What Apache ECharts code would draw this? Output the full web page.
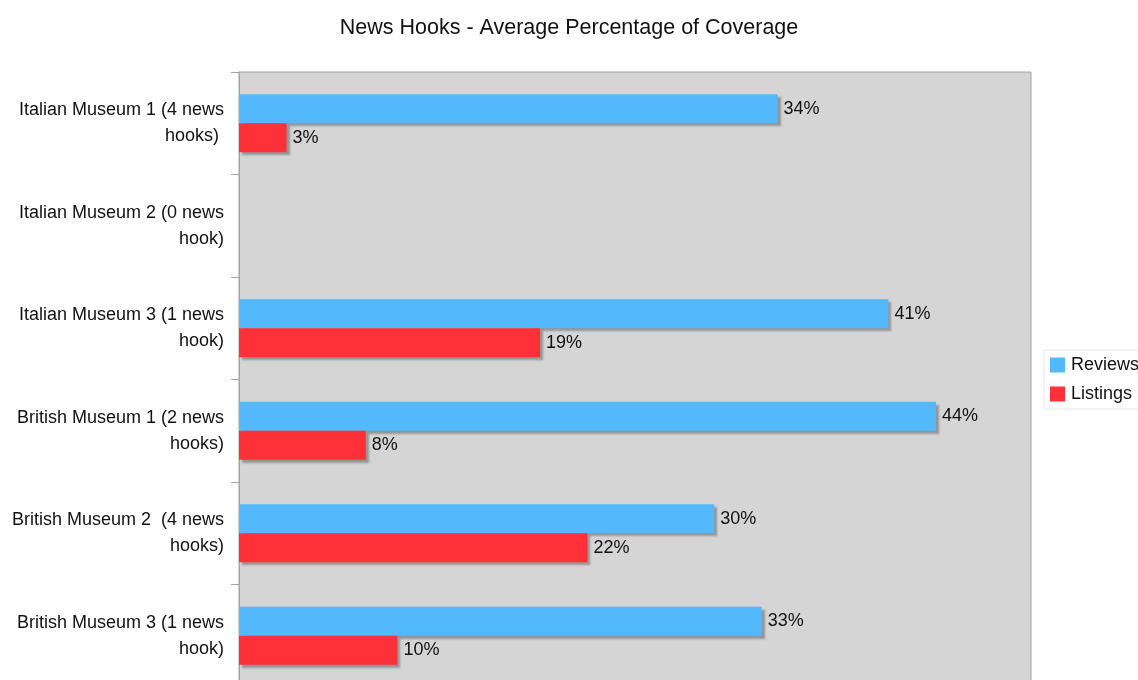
<!DOCTYPE html>
<html><head><meta charset="utf-8">
<script src="https://cdn.jsdelivr.net/npm/echarts@6/dist/echarts.min.js"></script>
<style>html,body{margin:0;padding:0;background:#fff}#c{width:1138px;height:680px}</style>
</head><body><div id="c"></div>
<script>
const categories = [
  "Italian Museum 1 (4 news\nhooks) ",
  "Italian Museum 2 (0 news\nhook)",
  "Italian Museum 3 (1 news\nhook)",
  "British Museum 1 (2 news\nhooks)",
  "British Museum 2  (4 news\nhooks)",
  "British Museum 3 (1 news\nhook)"
];
const reviews = [34, null, 41, 44, 30, 33];
const listings = [3, null, 19, 8, 22, 10];
const seriesNames = ["Reviews", "Listings"];

const FONT = '"Liberation Sans", Arial, Helvetica, sans-serif';
const chart = echarts.init(document.getElementById('c'), null, {renderer: 'canvas'});
const barStyle = (color) => ({
  color: color,
  shadowColor: 'rgba(0,0,0,0.3)',
  shadowOffsetX: 3,
  shadowOffsetY: 3,
  shadowBlur: 2
});
const lbl = {
  show: true, position: 'right', distance: 6,
  formatter: p => p.value + '%',
  color: '#111', fontSize: 18, fontFamily: FONT
};
chart.setOption({
  animation: false,
  textStyle: {fontFamily: FONT},
  title: {
    text: 'News Hooks - Average Percentage of Coverage',
    left: 'center', top: 12,
    textStyle: {fontSize: 21.5, fontWeight: 'normal', color: '#111', fontFamily: FONT}
  },
  legend: {
    orient: 'vertical', left: 1044, top: 350,
    data: seriesNames,
    itemWidth: 15, itemHeight: 15, itemGap: 11,
    icon: 'rect',
    backgroundColor: '#fff', borderColor: '#e8e8e8', borderWidth: 1,
    padding: [6, 8, 6, 6],
    textStyle: {fontSize: 18, color: '#111', fontFamily: FONT, padding: [0, 0, 0, 1]}
  },
  grid: {
    left: 239, top: 72, width: 792, height: 615,
    outerBoundsMode: 'none',
    containLabel: false,
    show: true, backgroundColor: '#d5d5d5', borderColor: '#a3a3a3', borderWidth: 1
  },
  xAxis: {
    type: 'value', min: 0, max: 50,
    axisLabel: {show: false}, splitLine: {show: false},
    axisLine: {show: false}, axisTick: {show: false}
  },
  yAxis: {
    type: 'category', data: categories, inverse: true,
    axisLine: {show: true, lineStyle: {color: '#a3a3a3', width: 1}},
    axisTick: {show: true, length: 8, lineStyle: {color: '#a3a3a3'}},
    axisLabel: {fontSize: 18, color: '#111', lineHeight: 26, margin: 15, fontFamily: FONT, align: 'right', padding: [3, 0, 0, 0]}
  },
  series: [
    {name: seriesNames[0], type: 'bar', data: reviews, barWidth: 29, barGap: '0%',
     itemStyle: barStyle('#54b8fd'), label: lbl},
    {name: seriesNames[1], type: 'bar', data: listings, barWidth: 29, barGap: '0%',
     itemStyle: barStyle('#fd3137'), label: lbl}
  ]
});
</script></body></html>
